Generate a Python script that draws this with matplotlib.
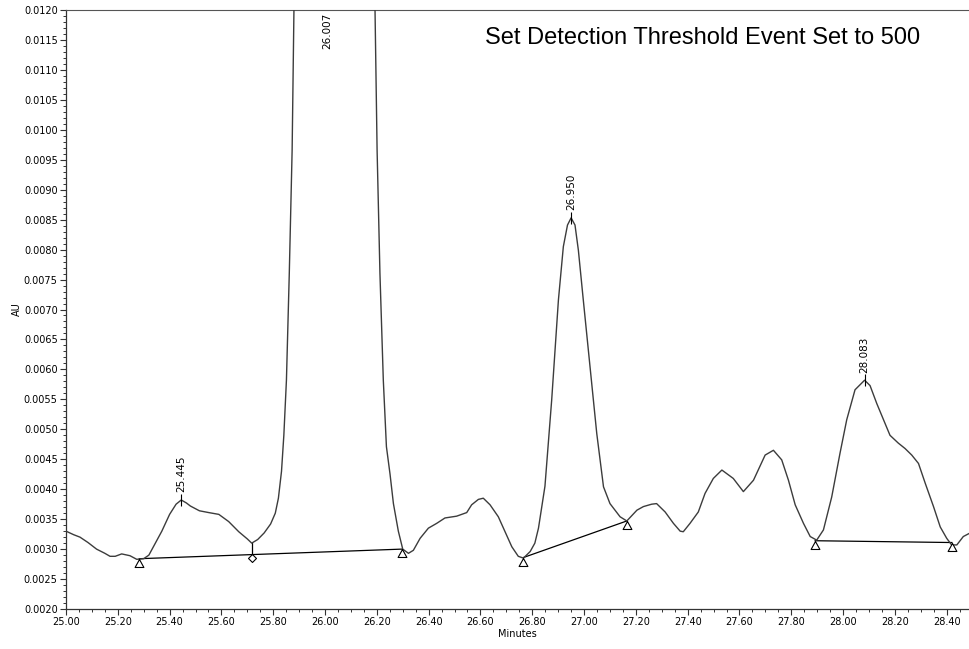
import matplotlib
matplotlib.use("Agg")
import matplotlib.pyplot as plt
from matplotlib.ticker import MultipleLocator, FormatStrFormatter
import numpy as np

# detector trace (minutes, AU)
minutes = [25.000, 25.030, 25.054, 25.085, 25.118, 25.150, 25.170, 25.190, 25.215, 25.247,
           25.273, 25.300, 25.320, 25.345, 25.370, 25.400, 25.425, 25.445, 25.465, 25.480,
           25.515, 25.551, 25.590, 25.628, 25.667, 25.700, 25.717, 25.740, 25.765, 25.790,
           25.808, 25.820, 25.832, 25.841, 25.851, 25.862, 25.873, 25.880, 25.900, 25.940,
           26.007, 26.080, 26.140, 26.193, 26.201, 26.212, 26.225, 26.237, 26.251, 26.264,
           26.283, 26.300, 26.322, 26.341, 26.367, 26.399, 26.431, 26.463, 26.508, 26.547,
           26.566, 26.592, 26.611, 26.637, 26.669, 26.695, 26.721, 26.746, 26.766, 26.792,
           26.810, 26.824, 26.849, 26.875, 26.901, 26.920, 26.936, 26.950, 26.965, 26.978,
           26.997, 27.023, 27.049, 27.075, 27.100, 27.139, 27.165, 27.204, 27.229, 27.261,
           27.280, 27.313, 27.345, 27.371, 27.383, 27.409, 27.441, 27.467, 27.499, 27.532,
           27.576, 27.615, 27.654, 27.699, 27.731, 27.763, 27.789, 27.815, 27.847, 27.873,
           27.898, 27.924, 27.956, 27.988, 28.014, 28.046, 28.083, 28.104, 28.130, 28.156,
           28.181, 28.213, 28.239, 28.265, 28.291, 28.317, 28.349, 28.375, 28.400, 28.419,
           28.439, 28.464, 28.486]
au = [0.00330, 0.00324, 0.00320, 0.00311, 0.00300, 0.00293, 0.00288, 0.00288, 0.00292, 0.00289,
      0.00283, 0.00284, 0.00290, 0.00310, 0.00330, 0.00358, 0.00375, 0.00382, 0.00377, 0.00372,
      0.00364, 0.00361, 0.00358, 0.00346, 0.00329, 0.00317, 0.00310, 0.00316, 0.00327, 0.00342,
      0.00360, 0.00385, 0.00430, 0.00490, 0.00582, 0.00760, 0.00966, 0.01200, 0.01550, 0.02000,
      0.02250, 0.02000, 0.01600, 0.01200, 0.00966, 0.00760, 0.00582, 0.00471, 0.00425, 0.00376,
      0.00330, 0.00300, 0.00293, 0.00298, 0.00318, 0.00335, 0.00343, 0.00352, 0.00355, 0.00361,
      0.00374, 0.00383, 0.00385, 0.00374, 0.00354, 0.00329, 0.00304, 0.00288, 0.00285, 0.00296,
      0.00310, 0.00335, 0.00405, 0.00549, 0.00716, 0.00805, 0.00841, 0.00853, 0.00841, 0.00799,
      0.00716, 0.00605, 0.00493, 0.00404, 0.00376, 0.00354, 0.00347, 0.00365, 0.00371, 0.00375,
      0.00376, 0.00362, 0.00343, 0.00330, 0.00329, 0.00343, 0.00362, 0.00393, 0.00418, 0.00432,
      0.00418, 0.00396, 0.00415, 0.00457, 0.00465, 0.00449, 0.00415, 0.00374, 0.00343, 0.00321,
      0.00315, 0.00332, 0.00387, 0.00460, 0.00516, 0.00566, 0.00582, 0.00573, 0.00543, 0.00516,
      0.00490, 0.00477, 0.00468, 0.00457, 0.00443, 0.00410, 0.00371, 0.00337, 0.00318, 0.00307,
      0.00307, 0.00321, 0.00326]

# integration baselines
base1_t = [25.283, 25.717, 26.296]
base1_y = [0.00284, 0.00292, 0.00300]
base2_t = [26.766, 27.165]
base2_y = [0.00286, 0.00347]
base3_t = [27.892, 28.420]
base3_y = [0.00314, 0.00311]

# drop line between the two first peaks
drop_t = 25.717

peak_times = [25.445, 26.007, 26.950, 28.083]
peak_labels = ["25.445", "26.007", "26.950", "28.083"]

plt.rcParams['font.family'] = ['DejaVu Sans']

fig = plt.figure(figsize=(9.69, 6.49), dpi=100)
ax = fig.add_axes([0.0681, 0.0616, 0.9319, 0.923])

trace = '#3c3c3c'
ax.plot(minutes, au, color=trace, lw=1.0, zorder=3)

tri = [(0, 0), (-0.55, -1), (0.55, -1), (0, 0)]
dia = [(0, 0), (-0.5, -0.5), (0, -1), (0.5, -0.5), (0, 0)]

for bt, by in [(base1_t, base1_y), (base2_t, base2_y), (base3_t, base3_y)]:
    ax.plot([bt[0], bt[-1]], [by[0], by[-1]], color='black', lw=0.9, zorder=2)
    ax.plot([bt[0], bt[-1]], [by[0], by[-1]], ls='none', marker=tri, ms=11.5,
            mfc='white', mec='black', mew=0.8, zorder=4)

# valley drop and diamond marker
yv = np.interp(drop_t, minutes, au)
yb = np.interp(drop_t, base1_t, base1_y)
ax.plot([drop_t, drop_t], [yb, yv], color='black', lw=0.9, zorder=2)
ax.plot([drop_t], [yb], ls='none', marker=dia, ms=11.5, mfc='white', mec='black',
        mew=0.8, zorder=4)

ymin, ymax = 0.0020, 0.0120
for t, lab in zip(peak_times, peak_labels):
    y = np.interp(t, minutes, au)
    if y < ymax:
        ax.plot([t], [y], ls='none', marker='|', ms=8, mec='black', mew=0.8, zorder=4)
        ax.annotate(lab, (t, y), xytext=(0, 5.5), textcoords='offset points',
                    rotation=90, ha='center', va='bottom', fontsize=7.5)
    else:
        ax.annotate(lab, (t, ymax), xytext=(0, -2), textcoords='offset points',
                    rotation=90, ha='center', va='top', fontsize=7.5)

ax.set_xlim(25.0, 28.486)
ax.set_ylim(ymin, ymax)
ax.xaxis.set_major_locator(MultipleLocator(0.2))
ax.xaxis.set_minor_locator(MultipleLocator(0.05))
ax.yaxis.set_major_locator(MultipleLocator(0.0005))
ax.yaxis.set_minor_locator(MultipleLocator(0.0001))
ax.xaxis.set_major_formatter(FormatStrFormatter('%.2f'))
ax.yaxis.set_major_formatter(FormatStrFormatter('%.4f'))
ax.tick_params(which='major', length=4.5, width=0.8, labelsize=7, pad=1.5, color='#333333')
ax.tick_params(which='minor', length=2, width=0.7, color='#333333')

ax.spines['right'].set_visible(False)
ax.spines['top'].set_color('#555555')
for s in ['left', 'bottom']:
    ax.spines[s].set_color('#333333')
    ax.spines[s].set_linewidth(0.9)

ax.set_xlabel("Minutes", fontsize=7, labelpad=1)
ax.set_ylabel("AU", fontsize=7, labelpad=1)

fig.text(0.7255, 0.9414, "Set Detection Threshold Event Set to 500", ha='center', va='center',
         fontsize=17, family='Liberation Sans')

fig.savefig('out.png', dpi=100)
